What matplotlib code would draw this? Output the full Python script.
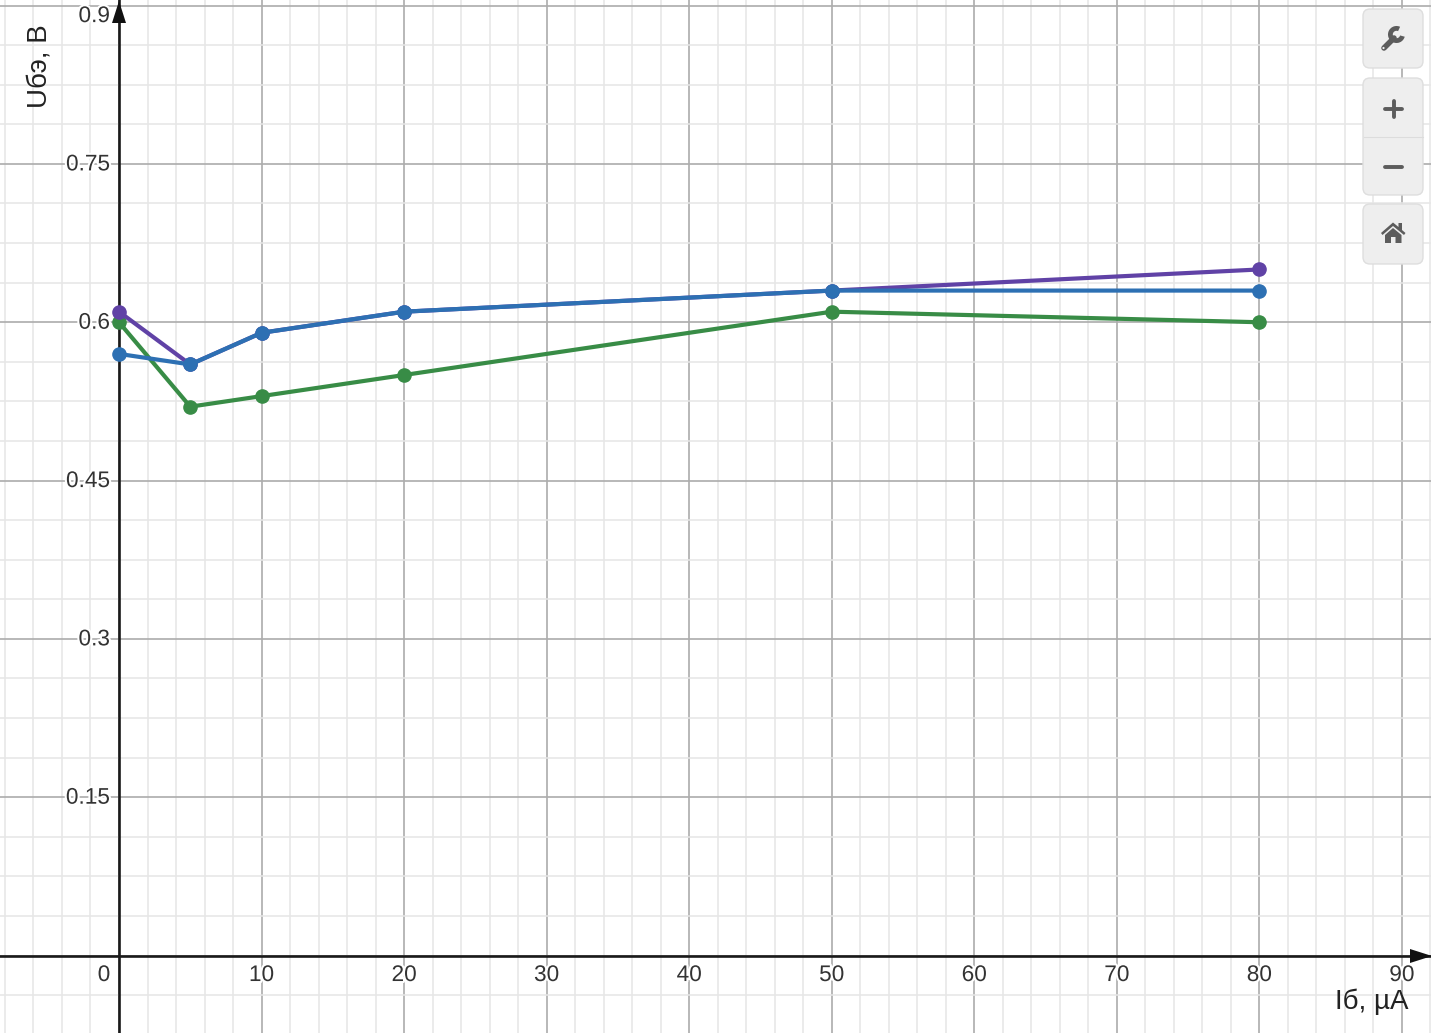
import matplotlib
matplotlib.use('Agg')
import matplotlib.pyplot as plt
import matplotlib.patheffects as pe
from matplotlib.patches import FancyBboxPatch, Polygon, Wedge, Circle
from matplotlib.ticker import MultipleLocator

plt.rcParams['font.family'] = ['Liberation Sans', 'DejaVu Sans']

# данные
x_values = [0, 5, 10, 20, 50, 80]
purple_values = [0.61, 0.56, 0.59, 0.61, 0.63, 0.65]
blue_values = [0.57, 0.56, 0.59, 0.61, 0.63, 0.63]
green_values = [0.60, 0.52, 0.53, 0.55, 0.61, 0.60]

x_ticks = [10, 20, 30, 40, 50, 60, 70, 80, 90]
y_ticks = [0.15, 0.3, 0.45, 0.6, 0.75, 0.9]
y_tick_labels = ['0.15', '0.3', '0.45', '0.6', '0.75', '0.9']

W, H = 1431, 1033
fig = plt.figure(figsize=(W / 100, H / 100), dpi=100)
ax = fig.add_axes([0, 0, 1, 1])
ax.set_xlim(-8.348, 92.04)
ax.set_ylim(-0.0734, 0.9053)

# сетка
ax.xaxis.set_major_locator(MultipleLocator(10))
ax.xaxis.set_minor_locator(MultipleLocator(2))
ax.yaxis.set_major_locator(MultipleLocator(0.15))
ax.yaxis.set_minor_locator(MultipleLocator(0.0375))
ax.grid(which='minor', color='#e6e6e6', lw=1.1, zorder=0)
ax.grid(which='major', color='#acacac', lw=1.2, zorder=1)
ax.set_axisbelow(True)
ax.tick_params(which='both', length=0, labelbottom=False, labelleft=False)
for s in ax.spines.values():
    s.set_visible(False)

ax.axhline(0, color='#1a1a1a', lw=1.9, zorder=2)
ax.axvline(0, color='#1a1a1a', lw=1.9, zorder=2)

# подписи делений
halo = [pe.withStroke(linewidth=3, foreground='white')]
for t in x_ticks:
    ax.annotate(str(t), (t, 0), xytext=(0, -19), textcoords='offset pixels', ha='center', va='center',
                fontsize=16.3, color='#333333', path_effects=halo, zorder=3)
ax.annotate('0', (0, 0), xytext=(-15, -19), textcoords='offset pixels', ha='center', va='center',
            fontsize=16.3, color='#333333', path_effects=halo, zorder=3)
for t, lab in zip(y_ticks, y_tick_labels):
    dy = -10 if t == 0.9 else 0
    ax.annotate(lab, (0, t), xytext=(-9, dy), textcoords='offset pixels', ha='right', va='center',
                fontsize=16.3, color='#333333', path_effects=halo, zorder=3)

# линии
ax.plot(x_values, green_values, '-o', color='#388c46', lw=3.0, ms=9.5, zorder=4, clip_on=False)
ax.plot(x_values, purple_values, '-o', color='#6042a6', lw=3.0, ms=9.5, zorder=5, clip_on=False)
ax.plot(x_values, blue_values, '-o', color='#2d70b3', lw=3.0, ms=9.5, zorder=6, clip_on=False)

# подписи осей
ax.text(87.9, -0.0435, 'Iб, µA', ha='center', va='center', fontsize=20, color='#222222', zorder=7)
ax.text(-5.6, 0.8425, 'Uбэ, В', ha='center', va='center', rotation=90, fontsize=20, color='#222222', zorder=7)

# слой интерфейса в пикселях
ui = fig.add_axes([0, 0, 1, 1])
ui.set_xlim(0, W)
ui.set_ylim(H, 0)
ui.axis('off')
ui.patch.set_alpha(0)

# стрелки осей
ui.add_patch(Polygon([(119, 1), (112, 23), (126, 23)], color='#111111', lw=0))
ui.add_patch(Polygon([(1432, 956), (1410, 949), (1410, 963)], color='#111111', lw=0))


def button(y0, y1):
    ui.add_patch(FancyBboxPatch((1366, y0 + 3), 54, y1 - y0 - 6, boxstyle='round,pad=3,rounding_size=7',
                                fc='#eeeeee', ec='#dedede', lw=1.0, zorder=10))


button(9, 68)
button(78, 195)
button(204, 264)
ui.plot([1364, 1423], [136.5, 136.5], color='#dcdcdc', lw=0.8, zorder=11)

icon = '#5c5c5c'
# ключ
ui.plot([1384, 1394], [48, 38], color=icon, lw=4, solid_capstyle='round', zorder=12)
ui.add_patch(Wedge((1396.5, 34.5), 8.5, 15, 295, width=4.8, fc=icon, lw=0, zorder=12))
ui.add_patch(Circle((1383.5, 48), 1.1, fc='#eeeeee', lw=0, zorder=13))
# плюс и минус
ui.plot([1385, 1402], [109, 109], color=icon, lw=2.8, solid_capstyle='round', zorder=12)
ui.plot([1393.5, 1393.5], [101, 117], color=icon, lw=2.8, solid_capstyle='round', zorder=12)
ui.plot([1385, 1402], [167, 167], color=icon, lw=2.8, solid_capstyle='round', zorder=12)
# домик
ui.add_patch(Polygon([(1381, 233), (1393, 222.5), (1398.5, 227), (1398.5, 223), (1402, 223), (1402, 230),
                      (1405.5, 233), (1404, 235), (1393, 226), (1382.5, 235)], fc=icon, lw=0, zorder=12))
ui.add_patch(Polygon([(1385, 235), (1393, 228), (1401.5, 235), (1401.5, 243), (1395.5, 243), (1395.5, 237),
                      (1391, 237), (1391, 243), (1385, 243)], fc=icon, lw=0, zorder=12))

fig.savefig('out.png', dpi=100)
